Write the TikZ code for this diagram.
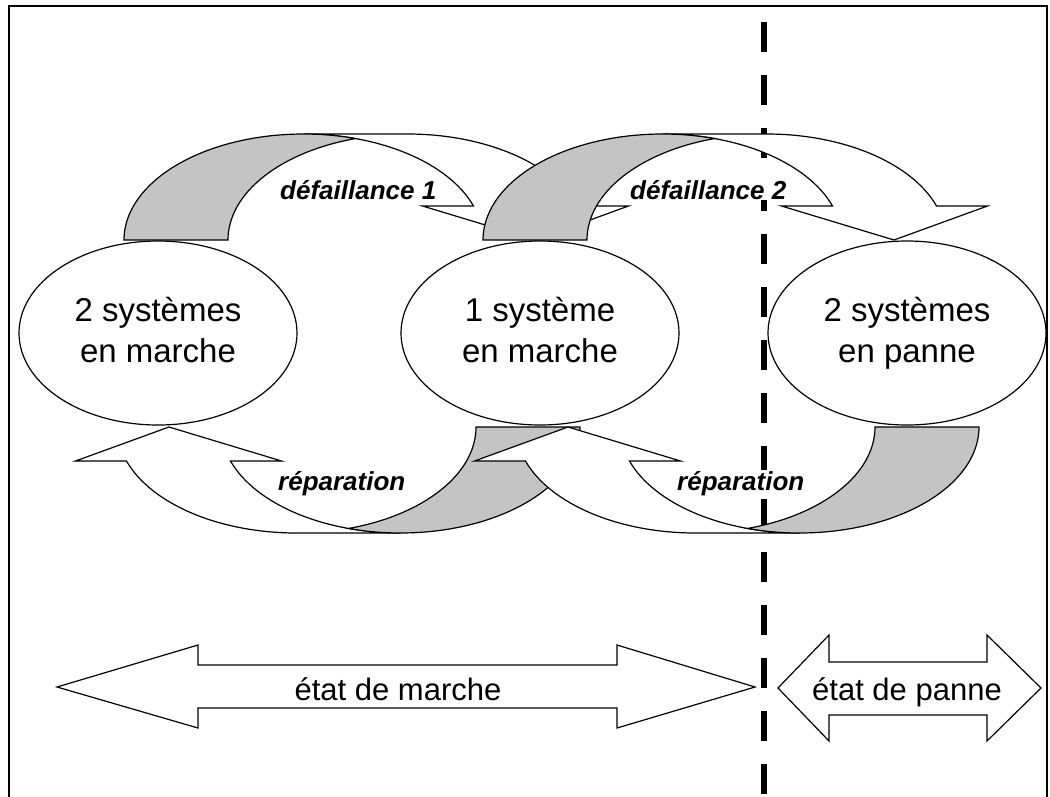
\documentclass[tikz,border=0pt]{standalone}
\usepackage{fontspec}
\setmainfont{Liberation Sans}
\usetikzlibrary{shapes.geometric}
\definecolor{bandgray}{gray}{0.77}
\tikzset{
  frameline/.style={line width=2pt, black},
  dashline/.style={line width=6pt, black, dash pattern=on 30pt off 23pt},
  arrowline/.style={draw=black, line width=1.2pt, line join=miter},
  state/.style={ellipse, draw=black, line width=1.2pt, fill=white,
    minimum width=278pt, minimum height=184pt, inner sep=0pt, align=center,
    text depth=6pt, font=\fontsize{33pt}{41pt}\selectfont},
  lab/.style={fill=white, inner sep=1pt,
    font=\fontsize{26pt}{30pt}\selectfont\bfseries\itshape},
  bigtext/.style={inner sep=0pt, font=\fontsize{31pt}{36pt}\selectfont},
  curvarrow/.pic={
    \filldraw[arrowline, fill=white] (411,0) -- (298.5,34) -- (349.5,34)
      arc[start angle=18.72, end angle=90, x radius=179.5, y radius=106]
      -- (283.5,106)
      arc[start angle=90, end angle=18.72, x radius=179.5, y radius=106]
      -- (504.5,34) -- cycle;
    \filldraw[arrowline, fill=bandgray] (0,0)
      arc[start angle=180, end angle=73.16, x radius=179.5, y radius=106]
      arc[start angle=106.84, end angle=180, x radius=179.5, y radius=106]
      -- cycle;
  },
}
\begin{document}
\begin{tikzpicture}[x=1pt,y=1pt]
\useasboundingbox (0,0) rectangle (1050,-796);
\begin{scope}
\clip (0,0) rectangle (1050,-796);
\fill[white] (0,0) rectangle (1050,-796);
% frame
\draw[frameline] (9,-830) -- (9,-6) -- (1047,-6) -- (1047,-830);
% separation line
\coordinate (sepTop) at (764,-22);
\coordinate (sepBot) at (764,-830);
\draw[dashline] (sepTop) -- (sepBot);
% states
\node[state] (e1) at (158,-333) {2 systèmes\\en marche};
\node[state] (e2) at (540,-333) {1 système\\en marche};
\node[state] (e3) at (907,-333) {2 systèmes\\en panne};
% curved arrows
\pic at (124,-240) {curvarrow};
\pic at (483,-240) {curvarrow};
\pic[rotate=180] at (580,-427) {curvarrow};
\pic[rotate=180] at (979,-427) {curvarrow};
% labels
\node[lab, anchor=base west] (d1) at (279,-199) {défaillance 1};
\node[lab, anchor=base west] (d2) at (629,-199) {défaillance 2};
\node[lab, anchor=base west] (r1) at (277,-490) {réparation};
\node[lab, anchor=base west] (r2) at (676,-490) {réparation};
% state ranges
\draw[arrowline, fill=white] (57,-687) -- (198,-645) -- (198,-665) -- (617,-665)
  -- (617,-645) -- (755,-687) -- (617,-728) -- (617,-708) -- (198,-708)
  -- (198,-728) -- cycle;
\node[bigtext, anchor=base] (marche) at (398,-700) {état de marche};
\draw[arrowline, fill=white] (778,-688) -- (829,-635) -- (829,-662) -- (987,-662)
  -- (987,-635) -- (1041,-688) -- (987,-741) -- (987,-715) -- (829,-715)
  -- (829,-741) -- cycle;
\node[bigtext, anchor=base] (panne) at (907,-700) {état de panne};
\end{scope}
\end{tikzpicture}
\end{document}
